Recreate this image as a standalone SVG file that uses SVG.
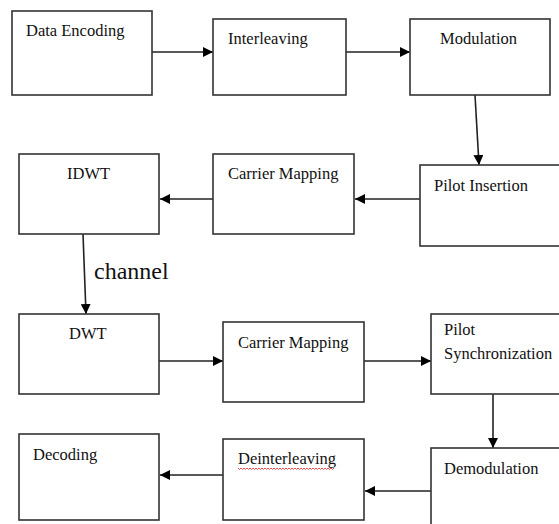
<svg xmlns="http://www.w3.org/2000/svg" width="559" height="524" viewBox="0 0 559 524">
<style>
.box{fill:#fff;stroke:#333;stroke-width:1.6}
.con{stroke:#222;stroke-width:1.6;fill:none;marker-end:url(#ah)}
</style>
<defs>
<marker id="ah" markerUnits="userSpaceOnUse" markerWidth="11" markerHeight="10" refX="10" refY="5" orient="auto">
<path d="M0,0 L10,5 L0,10 Z" fill="#000"/>
</marker>
</defs>
<rect width="559" height="524" fill="#fff"/>
<g font-family="Liberation Serif" fill="#111" font-size="16.5">
<g id="connectors">
<line class="con" x1="152" y1="52" x2="213" y2="52"/>
<line class="con" x1="346" y1="52" x2="410" y2="52"/>
<line class="con" x1="475" y1="95" x2="479" y2="165"/>
<line class="con" x1="420" y1="199" x2="355" y2="199"/>
<line class="con" x1="213" y1="199" x2="160" y2="199"/>
<line class="con" x1="83" y1="234" x2="86" y2="314"/>
<line class="con" x1="159" y1="361" x2="223" y2="361"/>
<line class="con" x1="364" y1="361" x2="431" y2="361"/>
<line class="con" x1="493" y1="394" x2="493" y2="448"/>
<line class="con" x1="431" y1="491" x2="365" y2="491"/>
<line class="con" x1="223" y1="475" x2="160" y2="475"/>
<text font-size="24" x="94" y="279">channel</text>
</g>
<g id="n1"><rect class="box" x="12" y="11" width="140" height="84"/><text x="26" y="36">Data Encoding</text></g>
<g id="n2"><rect class="box" x="213" y="19" width="133" height="76"/><text x="228" y="44">Interleaving</text></g>
<g id="n3"><rect class="box" x="410" y="19" width="140" height="76"/><text x="440" y="44">Modulation</text></g>
<g id="n4"><rect class="box" x="420" y="165" width="150" height="81"/><text x="434" y="191">Pilot Insertion</text></g>
<g id="n5"><rect class="box" x="213" y="154" width="141" height="80"/><text x="228" y="179">Carrier Mapping</text></g>
<g id="n6"><rect class="box" x="19" y="154" width="140" height="80"/><text x="67" y="179">IDWT</text></g>
<g id="n7"><rect class="box" x="19" y="314" width="140" height="80"/><text x="69" y="339">DWT</text></g>
<g id="n8"><rect class="box" x="223" y="322" width="141" height="80"/><text x="238" y="348">Carrier Mapping</text></g>
<g id="n9"><rect class="box" x="431" y="314" width="140" height="80"/><text x="444" y="335">Pilot</text><text x="444" y="359">Synchronization</text></g>
<g id="n10"><rect class="box" x="431" y="448" width="140" height="90"/><text x="444" y="474">Demodulation</text></g>
<g id="n11"><rect class="box" x="223" y="439" width="141" height="81"/><text x="238" y="464">Deinterleaving</text><path d="M238,468 l1.5,1.5 l1.5,-1.5 l1.5,1.5 l1.5,-1.5 l1.5,1.5 l1.5,-1.5 l1.5,1.5 l1.5,-1.5 l1.5,1.5 l1.5,-1.5 l1.5,1.5 l1.5,-1.5 l1.5,1.5 l1.5,-1.5 l1.5,1.5 l1.5,-1.5 l1.5,1.5 l1.5,-1.5 l1.5,1.5 l1.5,-1.5 l1.5,1.5 l1.5,-1.5 l1.5,1.5 l1.5,-1.5 l1.5,1.5 l1.5,-1.5 l1.5,1.5 l1.5,-1.5 l1.5,1.5 l1.5,-1.5 l1.5,1.5 l1.5,-1.5 l1.5,1.5 l1.5,-1.5 l1.5,1.5 l1.5,-1.5 l1.5,1.5 l1.5,-1.5 l1.5,1.5 l1.5,-1.5 l1.5,1.5 l1.5,-1.5 l1.5,1.5 l1.5,-1.5 l1.5,1.5 l1.5,-1.5 l1.5,1.5 l1.5,-1.5 l1.5,1.5 l1.5,-1.5 l1.5,1.5 l1.5,-1.5 l1.5,1.5 l1.5,-1.5 l1.5,1.5 l1.5,-1.5 l1.5,1.5 l1.5,-1.5 l1.5,1.5 l1.5,-1.5 l1.5,1.5 l1.5,-1.5 l1.5,1.5 l1.5,-1.5" fill="none" stroke="#e22" stroke-width="0.8"/></g>
<g id="n12"><rect class="box" x="19" y="434" width="140" height="86"/><text x="33" y="460">Decoding</text></g>
</g>
</svg>
